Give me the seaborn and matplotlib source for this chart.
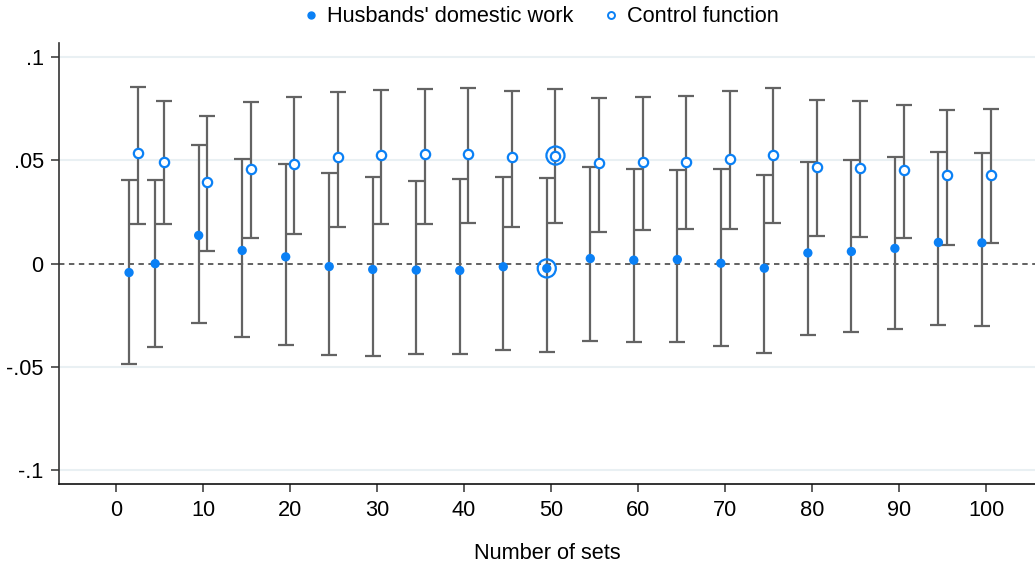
import numpy as np
import pandas as pd
import matplotlib
matplotlib.use("Agg")
import matplotlib.pyplot as plt
import seaborn as sns
from matplotlib.lines import Line2D

# number of sets on the x axis
sets = [2, 5, 10, 15, 20, 25, 30, 35, 40, 45, 50, 55, 60, 65, 70, 75, 80, 85, 90, 95, 100]

# husbands' domestic work: estimate and 95% bounds
husb_est = [-0.0043, 0.0000, 0.0137, 0.0064, 0.0033, -0.0014, -0.0028, -0.0031, -0.0033, -0.0015, -0.0023,
            0.0025, 0.0017, 0.0020, 0.0002, -0.0022, 0.0052, 0.0059, 0.0074, 0.0103, 0.0101]
husb_hi = [0.0404, 0.0407, 0.0577, 0.0509, 0.0482, 0.0441, 0.0420, 0.0399, 0.0409, 0.0422, 0.0415,
           0.0467, 0.0459, 0.0456, 0.0457, 0.0432, 0.0491, 0.0501, 0.0515, 0.0540, 0.0535]
husb_lo = [-0.0485, -0.0406, -0.0286, -0.0357, -0.0396, -0.0444, -0.0448, -0.0438, -0.0440, -0.0417, -0.0428,
           -0.0374, -0.0382, -0.0382, -0.0401, -0.0433, -0.0346, -0.0333, -0.0319, -0.0298, -0.0301]

# control function: estimate and 95% bounds
ctrl_est = [0.0538, 0.0495, 0.0398, 0.0461, 0.0483, 0.0517, 0.0527, 0.0530, 0.0532, 0.0517, 0.0524,
            0.0486, 0.0493, 0.0493, 0.0507, 0.0525, 0.0470, 0.0464, 0.0453, 0.0430, 0.0432]
ctrl_hi = [0.0856, 0.0788, 0.0714, 0.0783, 0.0806, 0.0833, 0.0840, 0.0845, 0.0850, 0.0835, 0.0845,
           0.0803, 0.0808, 0.0811, 0.0835, 0.0851, 0.0795, 0.0787, 0.0767, 0.0743, 0.0748]
ctrl_lo = [0.0191, 0.0193, 0.0059, 0.0122, 0.0144, 0.0177, 0.0190, 0.0193, 0.0198, 0.0178, 0.0199,
           0.0154, 0.0161, 0.0166, 0.0168, 0.0199, 0.0133, 0.0128, 0.0123, 0.0091, 0.0098]

highlight = 50  # the set used in the main model

blue = "#0a80f5"
bar_col = "#636363"

df = pd.DataFrame({"sets": sets, "husb": husb_est, "husb_lo": husb_lo, "husb_hi": husb_hi,
                   "ctrl": ctrl_est, "ctrl_lo": ctrl_lo, "ctrl_hi": ctrl_hi})
df["x_h"] = df.sets - 0.5
df["x_c"] = df.sets + 0.5

sns.set_style("white")
plt.rcParams["font.family"] = ["Liberation Sans", "DejaVu Sans"]
plt.rcParams["text.color"] = "black"
plt.rcParams["axes.labelcolor"] = "black"
plt.rcParams["xtick.color"] = "black"
plt.rcParams["ytick.color"] = "black"

fs = 15.7

fig = plt.figure(figsize=(10.35, 5.64), dpi=100)
ax = fig.add_axes([0.057, 0.141, 0.943, 0.783])

# light grid + dashed zero line
for yv in [-0.1, -0.05, 0.05, 0.1]:
    ax.axhline(yv, color="#e9f0f3", lw=1.5, zorder=0)
ax.axhline(0, color="#555555", lw=1.3, ls=(0, (3, 2.5)), zorder=1)

# confidence intervals
ax.errorbar(df.x_h, df.husb, yerr=[df.husb - df.husb_lo, df.husb_hi - df.husb],
            fmt="none", ecolor=bar_col, elinewidth=1.6, capsize=5.5, capthick=1.6, zorder=2)
ax.errorbar(df.x_c, df.ctrl, yerr=[df.ctrl - df.ctrl_lo, df.ctrl_hi - df.ctrl],
            fmt="none", ecolor=bar_col, elinewidth=1.6, capsize=5.5, capthick=1.6, zorder=2)

# point estimates
sns.scatterplot(data=df, x="x_h", y="husb", ax=ax, color=blue, s=45, edgecolor="none", zorder=3, legend=False)
sns.scatterplot(data=df, x="x_c", y="ctrl", ax=ax, facecolor="white", edgecolor=blue, linewidth=1.6,
                s=45, zorder=3, legend=False)

# rings around the highlighted set
hl = df[df.sets == highlight]
ax.scatter(hl.x_h, hl.husb, s=170, facecolor="none", edgecolor=blue, linewidth=1.6, zorder=4)
ax.scatter(hl.x_c, hl.ctrl, s=170, facecolor="none", edgecolor=blue, linewidth=1.6, zorder=4)

ax.set_xlim(-6.55, 105.6)
ax.set_ylim(-0.107, 0.107)
ax.set_xticks(range(0, 101, 10))
ax.set_yticks([-0.1, -0.05, 0, 0.05, 0.1])
ax.set_yticklabels(["-.1", "-.05", "0", ".05", ".1"])
ax.set_xlabel("Number of sets", fontsize=fs, labelpad=16)
ax.set_ylabel("")

for s in ["top", "right"]:
    ax.spines[s].set_visible(False)
ax.spines["left"].set_color("#333333")
ax.spines["bottom"].set_color("#111111")
ax.spines["left"].set_linewidth(1.2)
ax.spines["bottom"].set_linewidth(1.2)
ax.tick_params(axis="both", which="major", direction="out", length=6, width=1.1,
               color="#333333", labelsize=fs, pad=5, left=True, bottom=True)

handles = [Line2D([], [], ls="none", marker="o", ms=5, color=blue, mec=blue),
           Line2D([], [], ls="none", marker="o", ms=5, mfc="white", mec=blue, mew=1.4)]
fig.legend(handles, ["Husbands' domestic work", "Control function"], loc="center",
           bbox_to_anchor=(0.521, 0.97), ncol=2, frameon=False, fontsize=fs,
           handletextpad=0.25, columnspacing=1.2, handlelength=1.0)

fig.savefig("out.png", dpi=100)
